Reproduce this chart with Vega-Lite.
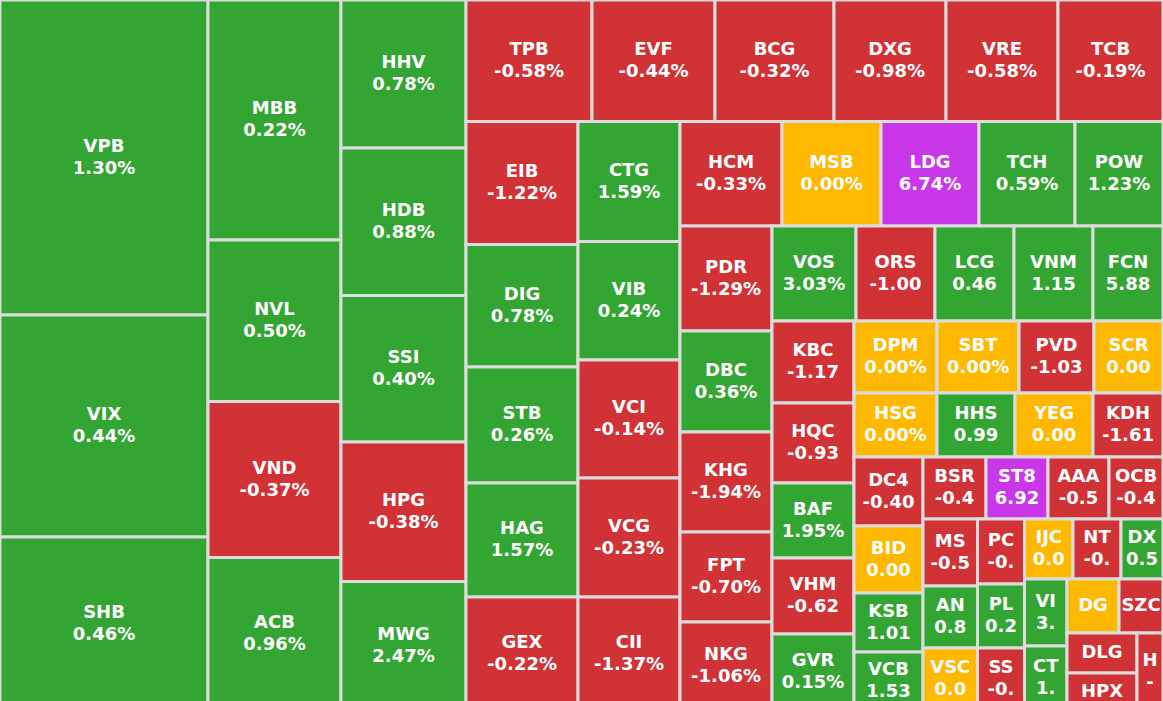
{
  "$schema": "https://vega.github.io/schema/vega-lite/v6.json",
  "width": 1163,
  "height": 701,
  "padding": 0,
  "autosize": {"type": "none"},
  "background": "#dcdcdc",
  "config": {"view": {"stroke": null}},
  "data": {
    "values": [
      {"ticker": "VPB", "change": "1.30%", "state": "up", "x0": 0, "x1": 208, "y0": 0, "y1": 315},
      {"ticker": "VIX", "change": "0.44%", "state": "up", "x0": 0, "x1": 208, "y0": 315, "y1": 537},
      {"ticker": "SHB", "change": "0.46%", "state": "up", "x0": 0, "x1": 208, "y0": 537, "y1": 710},
      {"ticker": "MBB", "change": "0.22%", "state": "up", "x0": 208, "x1": 341, "y0": 0, "y1": 240},
      {"ticker": "NVL", "change": "0.50%", "state": "up", "x0": 208, "x1": 341, "y0": 240, "y1": 401.5},
      {"ticker": "VND", "change": "-0.37%", "state": "down", "x0": 208, "x1": 341, "y0": 401.5, "y1": 557.5},
      {"ticker": "ACB", "change": "0.96%", "state": "up", "x0": 208, "x1": 341, "y0": 557.5, "y1": 710},
      {"ticker": "HHV", "change": "0.78%", "state": "up", "x0": 341, "x1": 466, "y0": 0, "y1": 148},
      {"ticker": "HDB", "change": "0.88%", "state": "up", "x0": 341, "x1": 466, "y0": 148, "y1": 295.5},
      {"ticker": "SSI", "change": "0.40%", "state": "up", "x0": 341, "x1": 466, "y0": 295.5, "y1": 442},
      {"ticker": "HPG", "change": "-0.38%", "state": "down", "x0": 341, "x1": 466, "y0": 442, "y1": 581.5},
      {"ticker": "MWG", "change": "2.47%", "state": "up", "x0": 341, "x1": 466, "y0": 581.5, "y1": 710},
      {"ticker": "TPB", "change": "-0.58%", "state": "down", "x0": 466, "x1": 592, "y0": 0, "y1": 121.5},
      {"ticker": "EVF", "change": "-0.44%", "state": "down", "x0": 592, "x1": 715, "y0": 0, "y1": 121.5},
      {"ticker": "BCG", "change": "-0.32%", "state": "down", "x0": 715, "x1": 834, "y0": 0, "y1": 121.5},
      {"ticker": "DXG", "change": "-0.98%", "state": "down", "x0": 834, "x1": 946, "y0": 0, "y1": 121.5},
      {"ticker": "VRE", "change": "-0.58%", "state": "down", "x0": 946, "x1": 1058, "y0": 0, "y1": 121.5},
      {"ticker": "TCB", "change": "-0.19%", "state": "down", "x0": 1058, "x1": 1163, "y0": 0, "y1": 121.5},
      {"ticker": "EIB", "change": "-1.22%", "state": "down", "x0": 466, "x1": 578, "y0": 121.5, "y1": 244.5},
      {"ticker": "DIG", "change": "0.78%", "state": "up", "x0": 466, "x1": 578, "y0": 244.5, "y1": 367},
      {"ticker": "STB", "change": "0.26%", "state": "up", "x0": 466, "x1": 578, "y0": 367, "y1": 483},
      {"ticker": "HAG", "change": "1.57%", "state": "up", "x0": 466, "x1": 578, "y0": 483, "y1": 597},
      {"ticker": "GEX", "change": "-0.22%", "state": "down", "x0": 466, "x1": 578, "y0": 597, "y1": 710},
      {"ticker": "CTG", "change": "1.59%", "state": "up", "x0": 578, "x1": 680, "y0": 121.5, "y1": 241.5},
      {"ticker": "VIB", "change": "0.24%", "state": "up", "x0": 578, "x1": 680, "y0": 241.5, "y1": 360},
      {"ticker": "VCI", "change": "-0.14%", "state": "down", "x0": 578, "x1": 680, "y0": 360, "y1": 478},
      {"ticker": "VCG", "change": "-0.23%", "state": "down", "x0": 578, "x1": 680, "y0": 478, "y1": 597},
      {"ticker": "CII", "change": "-1.37%", "state": "down", "x0": 578, "x1": 680, "y0": 597, "y1": 710},
      {"ticker": "HCM", "change": "-0.33%", "state": "down", "x0": 680, "x1": 782, "y0": 121.5, "y1": 226},
      {"ticker": "MSB", "change": "0.00%", "state": "ref", "x0": 782, "x1": 881, "y0": 121.5, "y1": 226},
      {"ticker": "LDG", "change": "6.74%", "state": "ceil", "x0": 881, "x1": 979, "y0": 121.5, "y1": 226},
      {"ticker": "TCH", "change": "0.59%", "state": "up", "x0": 979, "x1": 1075, "y0": 121.5, "y1": 226},
      {"ticker": "POW", "change": "1.23%", "state": "up", "x0": 1075, "x1": 1163, "y0": 121.5, "y1": 226},
      {"ticker": "PDR", "change": "-1.29%", "state": "down", "x0": 680, "x1": 772, "y0": 226, "y1": 331},
      {"ticker": "DBC", "change": "0.36%", "state": "up", "x0": 680, "x1": 772, "y0": 331, "y1": 432},
      {"ticker": "KHG", "change": "-1.94%", "state": "down", "x0": 680, "x1": 772, "y0": 432, "y1": 532},
      {"ticker": "FPT", "change": "-0.70%", "state": "down", "x0": 680, "x1": 772, "y0": 532, "y1": 622},
      {"ticker": "NKG", "change": "-1.06%", "state": "down", "x0": 680, "x1": 772, "y0": 622, "y1": 710},
      {"ticker": "VOS", "change": "3.03%", "state": "up", "x0": 772, "x1": 856, "y0": 226, "y1": 321},
      {"ticker": "ORS", "change": "-1.00", "state": "down", "x0": 856, "x1": 935, "y0": 226, "y1": 321},
      {"ticker": "LCG", "change": "0.46", "state": "up", "x0": 935, "x1": 1014, "y0": 226, "y1": 321},
      {"ticker": "VNM", "change": "1.15", "state": "up", "x0": 1014, "x1": 1093, "y0": 226, "y1": 321},
      {"ticker": "FCN", "change": "5.88", "state": "up", "x0": 1093, "x1": 1163, "y0": 226, "y1": 321},
      {"ticker": "KBC", "change": "-1.17", "state": "down", "x0": 772, "x1": 854, "y0": 321, "y1": 403},
      {"ticker": "HQC", "change": "-0.93", "state": "down", "x0": 772, "x1": 854, "y0": 403, "y1": 483},
      {"ticker": "BAF", "change": "1.95%", "state": "up", "x0": 772, "x1": 854, "y0": 483, "y1": 558},
      {"ticker": "VHM", "change": "-0.62", "state": "down", "x0": 772, "x1": 854, "y0": 558, "y1": 634},
      {"ticker": "GVR", "change": "0.15%", "state": "up", "x0": 772, "x1": 854, "y0": 634, "y1": 710},
      {"ticker": "DPM", "change": "0.00%", "state": "ref", "x0": 854, "x1": 937, "y0": 321, "y1": 393},
      {"ticker": "SBT", "change": "0.00%", "state": "ref", "x0": 937, "x1": 1019, "y0": 321, "y1": 393},
      {"ticker": "PVD", "change": "-1.03", "state": "down", "x0": 1019, "x1": 1094, "y0": 321, "y1": 393},
      {"ticker": "SCR", "change": "0.00", "state": "ref", "x0": 1094, "x1": 1163, "y0": 321, "y1": 393},
      {"ticker": "HSG", "change": "0.00%", "state": "ref", "x0": 854, "x1": 937, "y0": 393, "y1": 457},
      {"ticker": "HHS", "change": "0.99", "state": "up", "x0": 937, "x1": 1015, "y0": 393, "y1": 457},
      {"ticker": "YEG", "change": "0.00", "state": "ref", "x0": 1015, "x1": 1093, "y0": 393, "y1": 457},
      {"ticker": "KDH", "change": "-1.61", "state": "down", "x0": 1093, "x1": 1163, "y0": 393, "y1": 457},
      {"ticker": "DC4", "change": "-0.40", "state": "down", "x0": 854, "x1": 923, "y0": 457, "y1": 526},
      {"ticker": "BID", "change": "0.00", "state": "ref", "x0": 854, "x1": 923, "y0": 526, "y1": 593},
      {"ticker": "KSB", "change": "1.01", "state": "up", "x0": 854, "x1": 923, "y0": 593, "y1": 652},
      {"ticker": "VCB", "change": "1.53", "state": "up", "x0": 854, "x1": 923, "y0": 652, "y1": 710},
      {"ticker": "BSR", "change": "-0.4", "state": "down", "x0": 923, "x1": 986, "y0": 457, "y1": 519},
      {"ticker": "ST8", "change": "6.92", "state": "ceil", "x0": 986, "x1": 1048, "y0": 457, "y1": 519},
      {"ticker": "AAA", "change": "-0.5", "state": "down", "x0": 1048, "x1": 1109, "y0": 457, "y1": 519},
      {"ticker": "OCB", "change": "-0.4", "state": "down", "x0": 1109, "x1": 1163, "y0": 457, "y1": 519},
      {"ticker": "MS", "change": "-0.5", "state": "down", "x0": 923, "x1": 977.5, "y0": 519, "y1": 586},
      {"ticker": "AN", "change": "0.8", "state": "up", "x0": 923, "x1": 977.5, "y0": 586, "y1": 648},
      {"ticker": "VSC", "change": "0.0", "state": "ref", "x0": 923, "x1": 977.5, "y0": 648, "y1": 710},
      {"ticker": "PC", "change": "-0.", "state": "down", "x0": 977.5, "x1": 1024.5, "y0": 519, "y1": 584},
      {"ticker": "PL", "change": "0.2", "state": "up", "x0": 977.5, "x1": 1024.5, "y0": 584, "y1": 648},
      {"ticker": "SS", "change": "-0.", "state": "down", "x0": 977.5, "x1": 1024.5, "y0": 648, "y1": 710},
      {"ticker": "IJC", "change": "0.0", "state": "ref", "x0": 1024.5, "x1": 1073, "y0": 519, "y1": 579},
      {"ticker": "NT", "change": "-0.", "state": "down", "x0": 1073, "x1": 1121, "y0": 519, "y1": 579},
      {"ticker": "DX", "change": "0.5", "state": "up", "x0": 1121, "x1": 1163, "y0": 519, "y1": 579},
      {"ticker": "VI", "change": "3.", "state": "up", "x0": 1024.5, "x1": 1067, "y0": 579, "y1": 646},
      {"ticker": "CT", "change": "1.", "state": "up", "x0": 1024.5, "x1": 1067, "y0": 646, "y1": 710},
      {"ticker": "DG", "change": "", "state": "ref", "x0": 1067, "x1": 1119, "y0": 579, "y1": 633},
      {"ticker": "SZC", "change": "", "state": "down", "x0": 1119, "x1": 1163, "y0": 579, "y1": 633},
      {"ticker": "DLG", "change": "", "state": "down", "x0": 1067, "x1": 1137, "y0": 633, "y1": 673},
      {"ticker": "HPX", "change": "", "state": "down", "x0": 1067, "x1": 1137, "y0": 673, "y1": 710},
      {"ticker": "H", "change": "-", "state": "down", "x0": 1137, "x1": 1163, "y0": 633, "y1": 710}
    ]
  },
  "layer": [
    {
      "mark": {"type": "rect", "stroke": "#dcdcdc", "strokeWidth": 3, "clip": true},
      "encoding": {
        "x": {"field": "x0", "type": "quantitative", "scale": {"domain": [0, 1163], "nice": false, "zero": false}, "axis": null},
        "x2": {"field": "x1"},
        "y": {"field": "y0", "type": "quantitative", "scale": {"domain": [0, 701], "nice": false, "zero": false, "reverse": true}, "axis": null},
        "y2": {"field": "y1"},
        "color": {
          "field": "state",
          "type": "nominal",
          "scale": {"domain": ["up", "down", "ref", "ceil"], "range": ["#33a532", "#d13236", "#ffb800", "#c837e8"]},
          "legend": null
        }
      }
    },
    {
      "transform": [
        {"calculate": "(datum.x0 + datum.x1) / 2", "as": "xc"},
        {"calculate": "(datum.y0 + datum.y1) / 2 - (datum.change == '' ? 0 : 11)", "as": "yc"},
        {"calculate": "datum.change == '' ? datum.ticker : datum.ticker + '\\n' + datum.change", "as": "label"}
      ],
      "mark": {
        "type": "text",
        "clip": true,
        "color": "white",
        "font": "DejaVu Sans",
        "fontWeight": "bold",
        "fontSize": 18,
        "lineHeight": 22,
        "lineBreak": "\n",
        "align": "center",
        "baseline": "middle"
      },
      "encoding": {
        "x": {"field": "xc", "type": "quantitative"},
        "y": {"field": "yc", "type": "quantitative"},
        "text": {"field": "label", "type": "nominal"}
      }
    }
  ]
}
